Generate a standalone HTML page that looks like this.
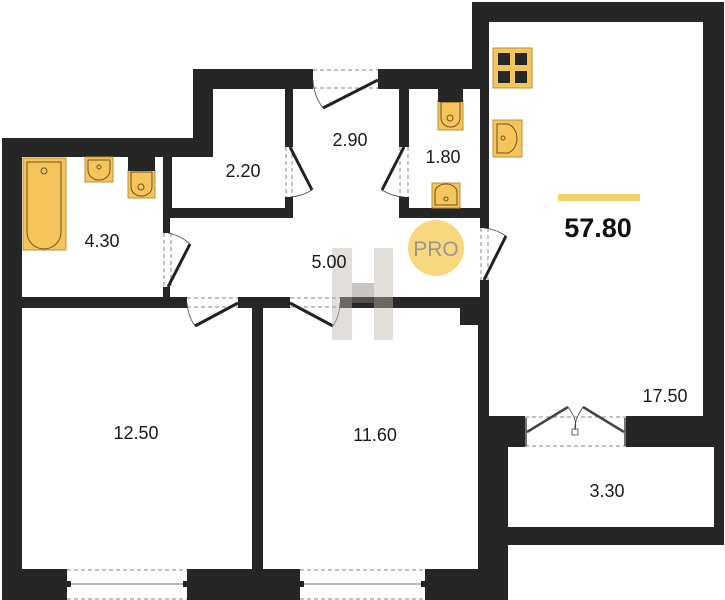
<!DOCTYPE html>
<html><head><meta charset="utf-8"><style>
html,body{margin:0;padding:0;background:#fff;width:725px;height:600px;overflow:hidden}
svg{display:block}
text{font-family:"Liberation Sans",sans-serif;fill:#1a1a1a}
</style></head><body>
<svg width="725" height="600" viewBox="0 0 725 600" xmlns="http://www.w3.org/2000/svg">
<polygon points="2,138 193,138 193,69 472,69 472,2 724,2 724,545 508,545 508,600 2,600" fill="#262626"/>
<g fill="#fff">
<rect x="22" y="157" width="141" height="140"/>
<rect x="213" y="89" width="72" height="70"/>
<rect x="172" y="157" width="113" height="51"/>
<rect x="293" y="89" width="106" height="131"/>
<rect x="170" y="218" width="310" height="79"/>
<rect x="409" y="220" width="71" height="77"/>
<rect x="313" y="69" width="65" height="20"/>
<rect x="409" y="89" width="71" height="119"/>
<rect x="489" y="22" width="214" height="394"/>
<rect x="22" y="308" width="230" height="261"/>
<rect x="263" y="308" width="215" height="261"/>
<rect x="508" y="447" width="206" height="80"/>
<rect x="163" y="233" width="9" height="54"/>
<rect x="285" y="147" width="8" height="50"/>
<rect x="399" y="147" width="10" height="50"/>
<rect x="480" y="228" width="9" height="52"/>
<rect x="187" y="297" width="51" height="11"/>
<rect x="290" y="297" width="50" height="11"/>
<rect x="525" y="416" width="101" height="31"/>
<rect x="67" y="569" width="120" height="31"/>
<rect x="300" y="569" width="125" height="31"/>
</g>
<rect x="460" y="297" width="18" height="28" fill="#262626"/>
<g stroke="#888" stroke-dasharray="4,3" stroke-width="1" fill="none">
<line x1="164" y1="233" x2="164" y2="287"/><line x1="171" y1="233" x2="171" y2="287"/>
<line x1="286" y1="147" x2="286" y2="197"/><line x1="292" y1="147" x2="292" y2="197"/>
<line x1="400" y1="147" x2="400" y2="197"/><line x1="408" y1="147" x2="408" y2="197"/>
<line x1="481" y1="228" x2="481" y2="280"/><line x1="488" y1="228" x2="488" y2="280"/>
<line x1="187" y1="298" x2="238" y2="298"/><line x1="187" y1="307" x2="238" y2="307"/>
<line x1="290" y1="298" x2="340" y2="298"/><line x1="290" y1="307" x2="340" y2="307"/>
<line x1="313" y1="70" x2="378" y2="70"/><line x1="313" y1="88" x2="378" y2="88"/>
<line x1="525" y1="417" x2="626" y2="417"/><line x1="525" y1="446" x2="626" y2="446"/>
<line x1="67" y1="570" x2="187" y2="570"/><line x1="67" y1="599" x2="187" y2="599"/>
<line x1="300" y1="570" x2="425" y2="570"/><line x1="300" y1="599" x2="425" y2="599"/>
</g>
<g stroke="#222" stroke-width="3" fill="none">
<line x1="168" y1="287" x2="190" y2="244"/>
<line x1="290" y1="147" x2="312" y2="190"/>
<line x1="404" y1="147" x2="382" y2="190"/>
<line x1="484" y1="280" x2="506" y2="236"/>
<line x1="238" y1="303" x2="195" y2="326"/>
<line x1="290" y1="303" x2="333" y2="326"/>
<line x1="378" y1="80" x2="323" y2="108"/>
</g>
<g stroke="#444" stroke-width="0.8" fill="none">
<path d="M190,244 A45,45 0 0 0 168,233"/><path d="M312,190 A45,45 0 0 1 290,197"/>
<path d="M382,190 A45,45 0 0 0 404,197"/><path d="M506,236 A45,45 0 0 0 484,228"/>
<path d="M195,326 A45,45 0 0 1 187,303"/><path d="M333,326 A45,45 0 0 0 340,303"/>
<path d="M323,108 A50,50 0 0 1 313,80"/>
<line x1="527" y1="432" x2="568" y2="407" stroke-width="2.5"/>
<line x1="624" y1="432" x2="583" y2="407" stroke-width="2.5"/>
<line x1="526" y1="418" x2="526" y2="446" stroke-width="1.5"/><line x1="625" y1="418" x2="625" y2="446" stroke-width="1.5"/>
<path d="M568,407 Q578,420 575,430 Q574,420 583,407"/>
<rect x="572" y="429" width="6" height="6"/>
<line x1="67" y1="584" x2="187" y2="584"/><line x1="300" y1="584" x2="425" y2="584"/>
</g>
<g fill="#222"><rect x="67" y="581" width="4" height="6"/><rect x="183" y="581" width="4" height="6"/><rect x="300" y="581" width="4" height="6"/><rect x="421" y="581" width="4" height="6"/></g>
<g fill="#f5c55c" stroke="#b8923a" stroke-width="1">
<rect x="23" y="158" width="43" height="92"/>
<rect x="85" y="157" width="28" height="25"/>
<rect x="128" y="170" width="27" height="28"/>
<rect x="493" y="48" width="39" height="40"/>
<rect x="493" y="120" width="29" height="37"/>
<rect x="438" y="100" width="25" height="30"/>
<rect x="432" y="183" width="28" height="25"/>
</g>
<g fill="none" stroke="#6b5520" stroke-width="1">
<path d="M27,162 H61 V232 A17,17 0 0 1 27,232 Z"/><circle cx="44" cy="171" r="3"/>
<path d="M88,160 H110 V170 A11,10 0 0 1 88,170 Z"/><circle cx="99" cy="167" r="2"/>
<path d="M131,172 H152 V187 A10.5,9 0 0 1 131,187 Z"/><circle cx="141" cy="187" r="3"/>
<path d="M497,124 H508 A12,15 0 0 1 508,153 H497 Z"/><circle cx="503" cy="138" r="2"/>
<path d="M441,102 H460 V118 A9.5,9 0 0 1 441,118 Z"/><circle cx="450" cy="118" r="3"/>
<path d="M435,205 V192 A11,8 0 0 1 457,192 V205 Z"/><circle cx="446" cy="199" r="2"/>
</g>
<g fill="#262626">
<rect x="128" y="157" width="27" height="14"/>
<rect x="438" y="89" width="25" height="13"/>
<rect x="498" y="53" width="12" height="12"/><rect x="515" y="53" width="12" height="12"/>
<rect x="498" y="71" width="12" height="12"/><rect x="515" y="71" width="12" height="12"/>
</g>
<g fill="#bfb8b0" opacity="0.45">
<rect x="332" y="248" width="20" height="92"/><rect x="374" y="248" width="19" height="92"/><rect x="352" y="283" width="22" height="20" fill="#8a8078"/>
</g>
<circle cx="436" cy="248" r="28" fill="#f9d77e"/>
<text x="436" y="256" font-size="21" text-anchor="middle" style="fill:#9b9590">PRO</text>
<rect x="558" y="194" width="82" height="7" fill="#f5cf6a"/>
<text x="598" y="237" font-size="27" font-weight="bold" text-anchor="middle" style="fill:#111">57.80</text>
<g font-size="18" text-anchor="middle">
<text x="102" y="247">4.30</text>
<text x="243" y="177">2.20</text>
<text x="350" y="146">2.90</text>
<text x="443" y="163">1.80</text>
<text x="329" y="268">5.00</text>
<text x="136" y="439">12.50</text>
<text x="375" y="441">11.60</text>
<text x="665" y="402">17.50</text>
<text x="607" y="497">3.30</text>
</g>
</svg>
</body></html>
